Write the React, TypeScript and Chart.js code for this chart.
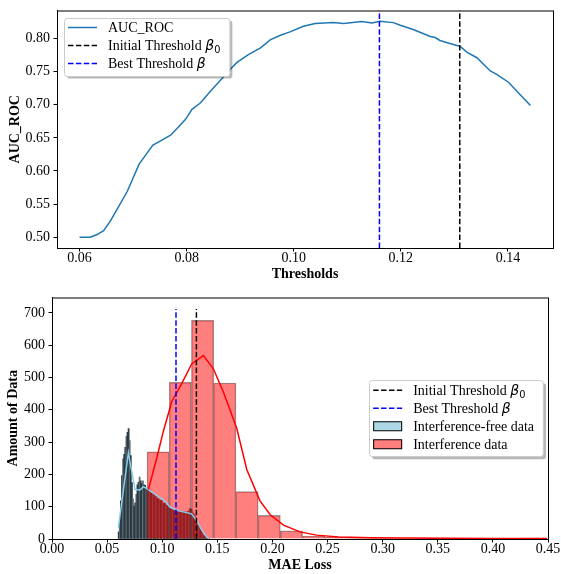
import { useEffect, useRef } from "react";
import { Chart, registerables } from "chart.js";

Chart.register(...registerables);

// ---------- AUC_ROC against detection threshold ----------
const thresholds = [
  0.06, 0.062, 0.0633, 0.0645, 0.0658, 0.067, 0.0689, 0.0711, 0.0726, 0.0737,
  0.0748, 0.077, 0.0782, 0.0798, 0.081, 0.0826, 0.0844, 0.0863, 0.0882, 0.0894,
  0.0916, 0.0938, 0.0956, 0.0975, 0.0993, 0.1018, 0.104, 0.1074, 0.1093, 0.1127,
  0.1146, 0.1161, 0.1186, 0.1199, 0.1223, 0.1255, 0.1264, 0.1273, 0.1298, 0.1311,
  0.1323, 0.1342, 0.1367, 0.1379, 0.1401, 0.1422, 0.1442,
];
const aucRoc = [
  0.5, 0.5, 0.504, 0.51, 0.525, 0.542, 0.569, 0.61, 0.627, 0.639,
  0.644, 0.654, 0.664, 0.678, 0.693, 0.703, 0.72, 0.737, 0.754, 0.764,
  0.776, 0.786, 0.798, 0.805, 0.81, 0.8185, 0.8225, 0.824, 0.8225, 0.8255,
  0.8235, 0.826, 0.824, 0.82, 0.8136, 0.803, 0.8015, 0.797, 0.791, 0.788,
  0.7795, 0.771, 0.751, 0.746, 0.734, 0.716, 0.699,
];
const initialThreshold = 0.131;
const bestThreshold = 0.116;
const thresholdTicks = [0.06, 0.08, 0.1, 0.12, 0.14];
const aucTicks = [0.5, 0.55, 0.6, 0.65, 0.7, 0.75, 0.8];

// ---------- MAE loss distributions ----------
const freeBinStart = 0.06;
const freeBinWidth = 0.001;
const freeCounts = [
  22, 55, 118, 196, 248, 262, 284, 318, 330, 342,
  305, 258, 175, 124, 102, 112, 138, 168, 176, 192,
  180, 172, 180, 168, 166, 158, 156, 150, 152, 144,
  142, 136, 138, 130, 132, 126, 124, 122, 118, 120,
  112, 110, 112, 106, 104, 100, 102, 97, 94, 92,
  90, 91, 87, 88, 86, 87, 84, 86, 83, 85,
  82, 84, 81, 86, 90, 95, 92, 84, 78, 72,
  64, 55, 46, 38, 30, 24, 18, 12, 8, 5,
  3, 2, 1,
];
const interfBinStart = 0.0862;
const interfBinWidth = 0.02016;
const interfCounts = [270, 485, 677, 483, 147, 73, 25, 9, 6, 4, 3, 3, 3, 1, 1, 0, 1, 3];

const freeKdeLoss = [
  0.0602, 0.0693, 0.0753, 0.0799, 0.083, 0.0874, 0.095, 0.101, 0.107, 0.113,
  0.119, 0.1267, 0.131, 0.1358, 0.1403, 0.1425,
];
const freeKdeCount = [35, 267, 153, 152, 162, 153, 135, 122, 99, 89, 84, 78, 58, 28, 7, 0];

const interfKdeLoss = [
  0.0874, 0.095, 0.101, 0.1086, 0.1177, 0.1267, 0.1373, 0.1464, 0.1554, 0.1676,
  0.1767, 0.1887, 0.198, 0.21, 0.225, 0.24, 0.26, 0.29, 0.32, 0.36, 0.4, 0.449,
];
const interfKdeCount = [
  153, 250, 333, 425, 481, 542, 568, 527, 456, 343,
  215, 118, 75, 43, 22, 12, 6, 4, 3, 2, 1.5, 1.5,
];

const lossInitialThreshold = 0.131;
const lossBestThreshold = 0.1125;
const thresholdMarkerTop = 712;
const lossTicks = [0, 0.05, 0.1, 0.15, 0.2, 0.25, 0.3, 0.35, 0.4, 0.45];
const countTicks = [0, 100, 200, 300, 400, 500, 600, 700];

// ---------- styling ----------
const SERIF = '"Liberation Serif", "Times New Roman", serif';
const MATH = '"DejaVu Sans", sans-serif';
const DASH = [5.5, 2.4];
const C0 = "#1f77b4";

// axis range padded by 5% on each side
function padded(values: number[]) {
  const lo = Math.min(...values);
  const hi = Math.max(...values);
  const m = (hi - lo) * 0.05;
  return [lo - m, hi + m];
}

function axis(o: any) {
  return {
    type: "linear",
    position: o.position,
    min: o.min,
    max: o.max,
    offset: false,
    afterBuildTicks: (s: any) => {
      s.ticks = o.ticks.map((v: number) => ({ value: v }));
    },
    afterFit: (s: any) => {
      if (o.position === "bottom") s.height = o.size;
      else s.width = o.size;
    },
    grid: {
      offset: false,
      drawOnChartArea: false,
      drawTicks: true,
      tickLength: 3.5,
      color: "#000",
      lineWidth: 1,
    },
    border: { display: true, color: "#000", width: 1 },
    ticks: {
      color: "#000",
      autoSkip: false,
      maxRotation: 0,
      padding: o.position === "bottom" ? 0 : 3.5,
      font: { family: SERIF, size: 14, lineHeight: 1 },
      callback: o.format,
    },
    title: {
      display: true,
      text: o.title,
      color: "#000",
      font: { family: SERIF, size: 14, weight: "bold" },
      padding: o.titlePad,
    },
  };
}

const framePlugin = {
  id: "frame",
  afterDatasetsDraw(chart: any) {
    const { ctx, chartArea: a } = chart;
    ctx.save();
    ctx.strokeStyle = "#000";
    ctx.lineWidth = 1;
    ctx.strokeRect(a.left + 0.5, a.top + 0.5, a.right - a.left, a.bottom - a.top);
    ctx.restore();
  },
};

type Entry = {
  kind: "line" | "patch";
  color: string;
  edge?: string;
  dash?: number[];
  text: string;
  math?: string;
  sub?: string;
};

function labelWidth(ctx: CanvasRenderingContext2D, e: Entry) {
  ctx.font = `14px ${SERIF}`;
  let w = ctx.measureText(e.text).width;
  if (e.math) {
    ctx.font = `italic 14px ${MATH}`;
    w += ctx.measureText(e.math).width;
  }
  if (e.sub) {
    ctx.font = `9.8px ${MATH}`;
    w += ctx.measureText(e.sub).width;
  }
  return w;
}

function drawLegend(chart: any, entries: Entry[], place: "upper left" | "center right") {
  const { ctx, chartArea: a } = chart;
  const rowGap = 18;
  const firstRow = 10;
  const w = 44 + Math.max(...entries.map((e) => labelWidth(ctx, e))) + 9;
  const h = firstRow + (entries.length - 1) * rowGap + 12;
  let x: number, y: number;
  if (place === "upper left") {
    x = a.left + 7;
    y = a.top + 7;
  } else {
    x = a.right - 5 - w;
    y = (a.top + a.bottom) / 2 - h / 2;
  }
  ctx.save();
  ctx.fillStyle = "rgba(0,0,0,0.28)";
  ctx.beginPath();
  ctx.roundRect(x + 3, y + 3, w, h, 2.8);
  ctx.fill();
  ctx.fillStyle = "#fff";
  ctx.strokeStyle = "#cccccc";
  ctx.lineWidth = 1;
  ctx.beginPath();
  ctx.roundRect(Math.round(x) + 0.5, Math.round(y) + 0.5, w, h, 2.8);
  ctx.fill();
  ctx.stroke();

  entries.forEach((e, i) => {
    const ry = y + firstRow + i * rowGap;
    if (e.kind === "line") {
      ctx.strokeStyle = e.color;
      ctx.lineWidth = 1.5;
      ctx.setLineDash(e.dash || []);
      ctx.beginPath();
      ctx.moveTo(x + 4, ry);
      ctx.lineTo(x + 33, ry);
      ctx.stroke();
      ctx.setLineDash([]);
    } else {
      ctx.fillStyle = e.color;
      ctx.fillRect(x + 4, ry - 4.7, 29, 9.4);
      ctx.strokeStyle = e.edge || "#000";
      ctx.lineWidth = 1;
      ctx.strokeRect(x + 4.5, ry - 4.5, 28, 9);
    }
    ctx.fillStyle = "#000";
    ctx.textBaseline = "alphabetic";
    ctx.textAlign = "left";
    const base = ry + 4.6;
    let tx = x + 44;
    ctx.font = `14px ${SERIF}`;
    ctx.fillText(e.text, tx, base);
    tx += ctx.measureText(e.text).width;
    if (e.math) {
      ctx.font = `italic 14px ${MATH}`;
      ctx.fillText(e.math, tx, base);
      tx += ctx.measureText(e.math).width;
    }
    if (e.sub) {
      ctx.font = `9.8px ${MATH}`;
      ctx.fillText(e.sub, tx, base + 2.8);
    }
  });
  ctx.restore();
}

function aucConfig(): any {
  const [xMin, xMax] = padded(thresholds);
  const [yMin, yMax] = padded(aucRoc);
  const vline = (x: number, color: string) => ({
    type: "line",
    data: [
      { x, y: yMin },
      { x, y: yMax },
    ],
    borderColor: color,
    borderWidth: 1.5,
    borderDash: DASH,
    pointRadius: 0,
    order: 0,
  });
  const entries: Entry[] = [
    { kind: "line", color: C0, text: "AUC_ROC" },
    { kind: "line", color: "#000", dash: DASH, text: "Initial Threshold ", math: "β", sub: "0" },
    { kind: "line", color: "#0000ff", dash: DASH, text: "Best Threshold ", math: "β" },
  ];
  return {
    type: "line",
    data: {
      datasets: [
        {
          data: thresholds.map((x, i) => ({ x, y: aucRoc[i] })),
          borderColor: C0,
          borderWidth: 1.5,
          pointRadius: 0,
          tension: 0,
          order: 1,
        },
        vline(initialThreshold, "#000"),
        vline(bestThreshold, "#0000ff"),
      ],
    },
    options: {
      animation: false,
      responsive: false,
      devicePixelRatio: 1,
      events: [],
      layout: { padding: { left: 0, right: 8, top: 3, bottom: 0 } },
      plugins: { legend: { display: false }, tooltip: { enabled: false } },
      scales: {
        x: axis({
          position: "bottom",
          min: xMin,
          max: xMax,
          ticks: thresholdTicks,
          size: 39,
          format: (v: any) => Number(v).toFixed(2),
          title: "Thresholds",
          titlePad: { top: 0, bottom: 4.6 },
        }),
        y: axis({
          position: "left",
          min: yMin,
          max: yMax,
          ticks: aucTicks,
          size: 57,
          format: (v: any) => Number(v).toFixed(2),
          title: "AUC_ROC",
          titlePad: { top: 6.6, bottom: 0 },
        }),
      },
    },
    plugins: [
      framePlugin,
      { id: "aucLegend", afterDraw: (c: any) => drawLegend(c, entries, "upper left") },
    ],
  };
}

function lossConfig(): any {
  const [, countMax] = padded([0, thresholdMarkerTop]);
  const [lossMin, lossMax] = [lossTicks[0], lossTicks[lossTicks.length - 1]];
  const vline = (x: number, color: string) => ({
    type: "line",
    xAxisID: "x",
    data: [
      { x, y: 0 },
      { x, y: thresholdMarkerTop },
    ],
    borderColor: color,
    borderWidth: 1.5,
    borderDash: DASH,
    pointRadius: 0,
    order: 0,
  });
  const entries: Entry[] = [
    { kind: "line", color: "#000", dash: DASH, text: "Initial Threshold ", math: "β", sub: "0" },
    { kind: "line", color: "#0000ff", dash: DASH, text: "Best Threshold ", math: "β" },
    { kind: "patch", color: "#add8e6", edge: "#000", text: "Interference-free data" },
    { kind: "patch", color: "rgba(255,0,0,0.5)", edge: "#000", text: "Interference data" },
  ];
  const xAxis = axis({
    position: "bottom",
    min: lossMin,
    max: lossMax,
    ticks: lossTicks,
    size: 35,
    format: (v: any) => Number(v).toFixed(2),
    title: "MAE Loss",
    titlePad: { top: 0, bottom: 0.6 },
  });
  return {
    type: "bar",
    data: {
      datasets: [
        vline(lossInitialThreshold, "#000"),
        vline(lossBestThreshold, "#0000ff"),
        {
          type: "line",
          xAxisID: "x",
          data: interfKdeLoss.map((x, i) => ({ x, y: interfKdeCount[i] })),
          borderColor: "#ff0000",
          borderWidth: 1.5,
          pointRadius: 0,
          tension: 0,
          order: 1,
        },
        {
          type: "line",
          xAxisID: "x",
          data: freeKdeLoss.map((x, i) => ({ x, y: freeKdeCount[i] })),
          borderColor: "#87ceeb",
          borderWidth: 1.5,
          pointRadius: 0,
          tension: 0,
          order: 1,
        },
        {
          type: "bar",
          xAxisID: "xi",
          data: interfCounts.map((c, i) => ({ x: interfBinStart + (i + 0.5) * interfBinWidth, y: c })),
          backgroundColor: "rgba(255,0,0,0.5)",
          borderColor: "rgba(70,70,70,0.55)",
          borderWidth: 0.8,
          barPercentage: 1,
          categoryPercentage: 1,
          grouped: false,
          order: 2,
        },
        {
          type: "bar",
          xAxisID: "x",
          data: freeCounts.map((c, i) => ({ x: freeBinStart + (i + 0.5) * freeBinWidth, y: c })),
          backgroundColor: (c: any) => (c.dataIndex % 3 === 1 ? "#5c6c75" : "#2c3a41"),
          borderWidth: 0,
          barPercentage: 1,
          categoryPercentage: 1,
          grouped: false,
          order: 3,
        },
      ],
    },
    options: {
      animation: false,
      responsive: false,
      devicePixelRatio: 1,
      events: [],
      layout: { padding: { left: 0, right: 13, top: 7, bottom: 0 } },
      plugins: { legend: { display: false }, tooltip: { enabled: false } },
      scales: {
        x: xAxis,
        xi: {
          type: "linear",
          position: "bottom",
          display: false,
          offset: false,
          grid: { offset: false },
          min: lossMin,
          max: lossMax,
          afterBuildTicks: (s: any) => {
            s.ticks = lossTicks.map((v) => ({ value: v }));
          },
        },
        y: axis({
          position: "left",
          min: 0,
          max: countMax,
          ticks: countTicks,
          size: 52,
          format: (v: any) => String(Math.round(Number(v))),
          title: "Amount of Data",
          titlePad: { top: 5, bottom: 0 },
        }),
      },
    },
    plugins: [
      framePlugin,
      { id: "lossLegend", afterDraw: (c: any) => drawLegend(c, entries, "center right") },
    ],
  };
}

export default function App() {
  const aucRef = useRef<HTMLCanvasElement>(null);
  const lossRef = useRef<HTMLCanvasElement>(null);

  useEffect(() => {
    const auc = new Chart(aucRef.current as HTMLCanvasElement, aucConfig());
    const loss = new Chart(lossRef.current as HTMLCanvasElement, lossConfig());
    return () => {
      auc.destroy();
      loss.destroy();
    };
  }, []);

  return (
    <div style={{ position: "absolute", left: 0, top: 0, width: 561, height: 574, background: "#fff" }}>
      <canvas
        ref={aucRef}
        width={561}
        height={287}
        style={{ position: "absolute", left: 0, top: 0, width: 561, height: 287 }}
      />
      <canvas
        ref={lossRef}
        width={561}
        height={287}
        style={{ position: "absolute", left: 0, top: 287, width: 561, height: 287 }}
      />
    </div>
  );
}
